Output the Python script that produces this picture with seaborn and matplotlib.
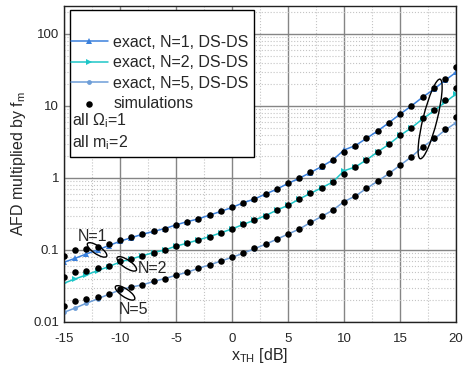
import numpy as np
import pandas as pd
import matplotlib
matplotlib.use("Agg")
import matplotlib.pyplot as plt
import seaborn as sns
from matplotlib.patches import Ellipse, Rectangle
from matplotlib.transforms import ScaledTranslation
from matplotlib.ticker import MultipleLocator

# x axis, threshold in dB
x_th = list(range(-15, 21))

# exact curves (DS-DS), AFD * f_m
exact_n1 = [0.0675, 0.0766, 0.088, 0.100, 0.115, 0.132, 0.148, 0.165, 0.181, 0.198,
            0.223, 0.247, 0.270, 0.305, 0.343, 0.390, 0.452, 0.510, 0.598, 0.700,
            0.840, 0.990, 1.19, 1.44, 1.78, 2.45, 2.81, 3.55, 4.50, 5.85,
            7.70, 10.0, 13.2, 17.0, 22.6, 29.4]
exact_n2 = [0.0345, 0.0396, 0.045, 0.0516, 0.0587, 0.068, 0.075, 0.083, 0.092, 0.100,
            0.113, 0.124, 0.138, 0.153, 0.173, 0.196, 0.226, 0.260, 0.300, 0.358,
            0.416, 0.510, 0.610, 0.730, 0.880, 1.26, 1.42, 1.78, 2.30, 2.93,
            3.90, 4.95, 6.60, 8.50, 11.2, 14.7]
exact_n5 = [0.0136, 0.0156, 0.0182, 0.0209, 0.0242, 0.0278, 0.0305, 0.0327, 0.0365, 0.040,
            0.0445, 0.049, 0.0555, 0.062, 0.070, 0.079, 0.090, 0.104, 0.120, 0.141,
            0.166, 0.195, 0.240, 0.292, 0.357, 0.470, 0.560, 0.715, 0.900, 1.15,
            1.50, 1.96, 2.68, 3.45, 4.60, 5.87]

# simulation points
sim_n1 = [0.0826, 0.100, 0.102, 0.111, 0.120, 0.138, 0.150, 0.167, 0.182, 0.198,
          0.225, 0.248, 0.270, 0.306, 0.344, 0.392, 0.454, 0.511, 0.600, 0.703,
          0.843, 0.990, 1.20, 1.45, 1.80, 2.31, 2.81, 3.56, 4.50, 5.87,
          7.74, 10.1, 13.5, 17.6, 23.7, 35.2]
sim_n2 = [0.042, 0.050, 0.0516, 0.0556, 0.0605, 0.0703, 0.075, 0.0834, 0.0918, 0.100,
          0.1136, 0.124, 0.138, 0.153, 0.174, 0.196, 0.227, 0.261, 0.300, 0.360,
          0.417, 0.511, 0.612, 0.734, 0.889, 1.14, 1.41, 1.78, 2.32, 2.94,
          3.96, 5.00, 6.74, 8.80, 12.1, 17.6]
sim_n5 = [0.0167, 0.0198, 0.0207, 0.0225, 0.0245, 0.0284, 0.031, 0.0327, 0.0367, 0.040,
          0.0445, 0.049, 0.0556, 0.062, 0.0703, 0.079, 0.090, 0.105, 0.120, 0.142,
          0.167, 0.196, 0.242, 0.294, 0.360, 0.465, 0.562, 0.718, 0.908, 1.16,
          1.52, 1.98, 2.72, 3.56, 4.80, 7.10]

labels = ["exact, N=1, DS-DS", "exact, N=2, DS-DS", "exact, N=5, DS-DS"]
y_ticks = [0.01, 0.1, 1, 10, 100]
y_tick_labels = ["0.01", "0.1", "1", "10", "100"]
x_ticks = [-15, -10, -5, 0, 5, 10, 15, 20]

sns.set_style("white")
plt.rcParams["font.family"] = ["Liberation Sans", "DejaVu Sans"]
plt.rcParams["mathtext.fontset"] = "custom"
plt.rcParams["mathtext.rm"] = "Liberation Sans"

fig = plt.figure(figsize=(4.64, 3.73), dpi=100)
ax = fig.add_axes([0.138, 0.137, 0.845, 0.847])

line_styles = [("#3a80dc", "^"), ("#1ec6c8", ">"), ("#6e9ed8", "o")]
for vals, lab, (col, mk) in zip([exact_n1, exact_n2, exact_n5], labels, line_styles):
    sns.lineplot(x=x_th, y=vals, ax=ax, color=col, marker=mk, markersize=4.5 if mk != "o" else 3.5,
                 markeredgewidth=0, linewidth=1.1, label=lab, zorder=2)

sims = pd.DataFrame({"x": x_th * 3, "y": sim_n1 + sim_n2 + sim_n5})
sns.scatterplot(data=sims, x="x", y="y", ax=ax, color="black", s=22, linewidth=0,
                label="simulations", zorder=4)

ax.set_yscale("log")
ax.set_xlim(-15, 20)
ax.set_ylim(0.01, 245)
ax.set_xticks(x_ticks)
ax.set_xticklabels([str(v) for v in x_ticks])
ax.xaxis.set_minor_locator(MultipleLocator(2.5))
ax.set_yticks(y_ticks)
ax.set_yticklabels(y_tick_labels)
ax.tick_params(which="both", direction="in", labelsize=9.5, length=2, color="#555555")
ax.tick_params(axis="x", pad=8)
ax.grid(which="major", color="#858585", linewidth=1, linestyle="-")
ax.grid(which="minor", color="#c4c4c4", linewidth=0.8, linestyle=":")
ax.set_axisbelow(True)
for sp in ax.spines.values():
    sp.set_color("#222222")
    sp.set_linewidth(1)

ax.set_xlabel(r"$\mathregular{x_{TH}}$ [dB]", fontsize=11.5, labelpad=1)
ax.set_ylabel(r"AFD multiplied by $\mathregular{f_m}$", fontsize=11.5, labelpad=4)

# legend box with extra text lines
box = Rectangle((0.0153, 0.522), 0.47, 0.465, transform=ax.transAxes, facecolor="white",
                edgecolor="black", linewidth=1, zorder=5)
ax.add_patch(box)
h, l = ax.get_legend_handles_labels()
leg = ax.legend(h, l, loc="upper left", bbox_to_anchor=(0.018, 0.908), frameon=False,
                fontsize=11.5, handlelength=2.3, handletextpad=0.35, labelspacing=0.33,
                borderaxespad=0, borderpad=0)
leg.set_zorder(6)
ax.text(0.021, 0.636, r"all $\mathregular{\Omega_i}$=1", transform=ax.transAxes,
        fontsize=11.5, va="center", ha="left", zorder=6)
ax.text(0.021, 0.566, r"all $\mathregular{m_i}$=2", transform=ax.transAxes,
        fontsize=11.5, va="center", ha="left", zorder=6)

# ellipses marking curve groups (size in inches, placed at data coords)
def mark(xc, yc, w, h, ang):
    e = Ellipse((0, 0), w, h, angle=ang, fill=False, edgecolor="black", linewidth=1,
                transform=fig.dpi_scale_trans + ScaledTranslation(xc, yc, ax.transData),
                zorder=5)
    ax.add_patch(e)

mark(-12.05, 0.1, 0.23, 0.08, -34)
mark(-9.4, 0.064, 0.23, 0.08, -34)
mark(-9.55, 0.0253, 0.23, 0.08, -34)
mark(17.68, 6.6, 0.82, 0.14, 76)

ax.text(-12.5, 0.152, "N=1", fontsize=11.5, ha="center", va="center", zorder=6)
ax.text(-7.14, 0.056, "N=2", fontsize=11.5, ha="center", va="center", zorder=6)
ax.text(-8.84, 0.0147, "N=5", fontsize=11.5, ha="center", va="center", zorder=6)

fig.savefig("out.png", dpi=100)
